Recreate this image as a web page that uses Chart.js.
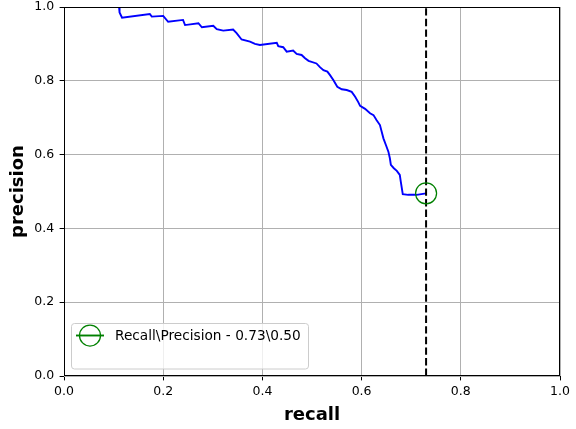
<!DOCTYPE html>
<html>
<head>
<meta charset="utf-8">
<script src="https://cdn.jsdelivr.net/npm/chart.js@4/dist/chart.umd.min.js"></script>
<style>
html,body{margin:0;padding:0;background:#fff;}
#wrap{width:576px;height:429px;}
</style>
</head>
<body>
<div id="wrap"><canvas id="c" width="576" height="429"></canvas></div>
<script>
const recall = [0.111,0.112,0.117,0.173,0.177,0.200,0.210,0.240,0.244,0.271,0.278,0.301,0.308,0.321,0.341,0.348,0.358,0.375,0.385,0.395,
  0.429,0.432,0.442,0.449,0.462,0.469,0.479,0.486,0.493,0.509,0.516,0.523,0.531,0.536,0.543,0.551,0.560,0.570,0.580,0.587,
  0.593,0.597,0.607,0.617,0.624,0.630,0.637,0.644,0.649,0.654,0.657,0.659,0.665,0.671,0.677,0.679,0.683,0.694,0.711,0.730];
const precision = [1.000,0.985,0.971,0.981,0.974,0.976,0.960,0.965,0.951,0.956,0.945,0.949,0.940,0.936,0.939,0.929,0.912,0.906,0.900,0.897,
  0.903,0.894,0.891,0.879,0.882,0.873,0.870,0.861,0.854,0.847,0.837,0.829,0.825,0.816,0.802,0.784,0.777,0.775,0.770,0.757,
  0.743,0.732,0.724,0.712,0.707,0.694,0.680,0.644,0.626,0.608,0.590,0.572,0.563,0.556,0.545,0.527,0.493,0.491,0.491,0.495];
const chosenRecall = 0.73;
const chosenPrecision = 0.495;
const legendLabel = 'Recall\\Precision - 0.73\\0.50';
const tickValues = [0, 0.2, 0.4, 0.6, 0.8, 1.0];
const xTitle = 'recall';
const yTitle = 'precision';

const FONT = "'DejaVu Sans', sans-serif";

const framePlugin = {
  id: 'frame',
  afterDatasetsDraw(chart) {
    const {ctx, chartArea: a} = chart;
    ctx.save();
    ctx.strokeStyle = '#000';
    ctx.lineWidth = 1;
    ctx.strokeRect(Math.round(a.left) + 0.5, Math.round(a.top) + 0.5,
                   Math.round(a.right - a.left) - 1, Math.round(a.bottom - a.top) - 1);
    // legend (anchored to bottom-left of the plot area)
    const lx = a.left + 7.5, ly = a.bottom - 52.5, lw = 237, lh = 45.5, r = 3;
    ctx.beginPath();
    ctx.moveTo(lx + r, ly);
    ctx.lineTo(lx + lw - r, ly);
    ctx.arcTo(lx + lw, ly, lx + lw, ly + r, r);
    ctx.lineTo(lx + lw, ly + lh - r);
    ctx.arcTo(lx + lw, ly + lh, lx + lw - r, ly + lh, r);
    ctx.lineTo(lx + r, ly + lh);
    ctx.arcTo(lx, ly + lh, lx, ly + lh - r, r);
    ctx.lineTo(lx, ly + r);
    ctx.arcTo(lx, ly, lx + r, ly, r);
    ctx.closePath();
    ctx.fillStyle = 'rgba(255,255,255,0.8)';
    ctx.fill();
    ctx.strokeStyle = '#cccccc';
    ctx.lineWidth = 1;
    ctx.stroke();
    const sy = ly + 12;
    ctx.strokeStyle = '#008000';
    ctx.lineWidth = 1.9;
    ctx.beginPath();
    ctx.moveTo(lx + 4.5, sy);
    ctx.lineTo(lx + 32.5, sy);
    ctx.stroke();
    ctx.lineWidth = 1.25;
    ctx.beginPath();
    ctx.arc(lx + 18.5, sy, 10.5, 0, Math.PI * 2);
    ctx.stroke();
    ctx.fillStyle = '#000';
    ctx.font = "13.7px " + FONT;
    ctx.textBaseline = 'middle';
    ctx.textAlign = 'left';
    ctx.fillText(legendLabel, lx + 43.5, sy + 0.5);
    ctx.restore();
  }
};

Chart.defaults.font.family = FONT;
Chart.defaults.color = '#000';

new Chart(document.getElementById('c'), {
  type: 'scatter',
  data: {
    datasets: [
      {
        data: recall.map((r, i) => ({x: r, y: precision[i]})),
        showLine: true,
        borderColor: '#0000ff',
        borderWidth: 1.9,
        pointRadius: 0,
        pointHoverRadius: 0,
        fill: false,
        tension: 0,
        order: 3
      },
      {
        data: [{x: chosenRecall, y: 0}, {x: chosenRecall, y: 1}],
        showLine: true,
        borderColor: '#000',
        borderWidth: 2,
        borderDash: [7.4, 3.2],
        pointRadius: 0,
        pointHoverRadius: 0,
        fill: false,
        order: 2
      },
      {
        data: [{x: chosenRecall, y: chosenPrecision}],
        showLine: false,
        pointRadius: 10.5,
        pointHoverRadius: 10.5,
        pointStyle: 'circle',
        pointBorderColor: '#008000',
        pointBackgroundColor: 'rgba(0,0,0,0)',
        pointBorderWidth: 1.25,
        borderColor: '#008000',
        order: 1
      }
    ]
  },
  options: {
    responsive: false,
    animation: false,
    devicePixelRatio: 1,
    clip: false,
    layout: {autoPadding: false, padding: {left: 0, right: 16, top: 7, bottom: 0}},
    plugins: {legend: {display: false}, tooltip: {enabled: false}},
    events: [],
    scales: {
      x: {
        type: 'linear',
        min: 0, max: 1,
        afterFit(s) { s.height = 53; s.paddingLeft = 0; s.paddingRight = 0; },
        afterBuildTicks(s) { s.ticks = tickValues.map(v => ({value: v})); },
        ticks: {
          callback: v => Number(v).toFixed(1),
          font: {size: 12.5, family: FONT},
          color: '#000',
          padding: 4.3,
          maxRotation: 0
        },
        grid: {color: '#b0b0b0', lineWidth: 1, tickColor: '#000', tickLength: 4.4, tickWidth: 1},
        border: {display: false},
        title: {display: true, text: xTitle, font: {size: 18, weight: 'bold', family: FONT, lineHeight: 1.2}, color: '#000', padding: {top: 0, bottom: 2.8}}
      },
      y: {
        type: 'linear',
        min: 0, max: 1,
        afterFit(s) { s.width = 64; s.paddingTop = 0; s.paddingBottom = 0; },
        afterBuildTicks(s) { s.ticks = tickValues.map(v => ({value: v})); },
        ticks: {
          callback: v => Number(v).toFixed(1),
          font: {size: 12.5, family: FONT},
          color: '#000',
          padding: 5.5
        },
        grid: {color: '#b0b0b0', lineWidth: 1, tickColor: '#000', tickLength: 4.4, tickWidth: 1},
        border: {display: false},
        title: {display: true, text: yTitle, font: {size: 18, weight: 'bold', family: FONT, lineHeight: 1.2}, color: '#000', padding: {top: 7.2, bottom: 0}}
      }
    }
  },
  plugins: [framePlugin]
});
</script>
</body>
</html>
